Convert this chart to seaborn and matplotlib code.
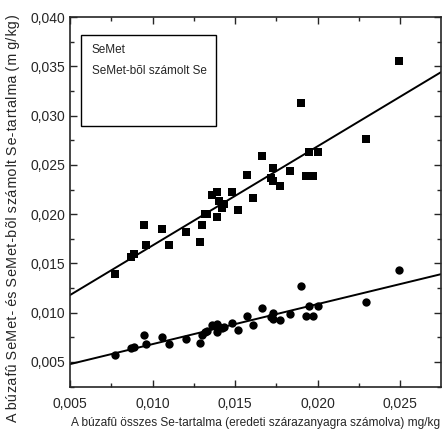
import numpy as np
import pandas as pd
import seaborn as sns
import matplotlib.pyplot as plt
from matplotlib.ticker import FuncFormatter, MultipleLocator
from matplotlib.patches import Rectangle

# összes Se-tartalom (mg/kg)
osszes_se = [0.0077, 0.0087, 0.0089, 0.0095, 0.0096, 0.0106, 0.0110, 0.0120, 0.0129,
             0.0130, 0.0132, 0.0133, 0.0136, 0.0139, 0.0139, 0.0140, 0.0142, 0.0143,
             0.0148, 0.0152, 0.0157, 0.0161, 0.0166, 0.0172, 0.0173, 0.0173, 0.0177,
             0.0183, 0.0193, 0.0195, 0.0197, 0.0200, 0.0190, 0.0229, 0.0249]
# SeMet (négyzetek)
semet = [0.0139, 0.0157, 0.0160, 0.0189, 0.0169, 0.0185, 0.0169, 0.0182, 0.0172,
         0.0189, 0.0200, 0.0200, 0.0219, 0.0222, 0.0197, 0.0213, 0.0206, 0.0210,
         0.0222, 0.0204, 0.0240, 0.0216, 0.0259, 0.0237, 0.0247, 0.0234, 0.0229,
         0.0244, 0.0239, 0.0263, 0.0239, 0.0263, 0.0313, 0.0276, 0.0355]
# SeMet-bõl számolt Se (körök)
semet_se = [0.0057, 0.0064, 0.0065, 0.0077, 0.0068, 0.0075, 0.0068, 0.0073, 0.0069,
            0.0077, 0.0080, 0.0081, 0.0088, 0.0089, 0.0080, 0.0086, 0.0084, 0.0085,
            0.0090, 0.0082, 0.0097, 0.0088, 0.0105, 0.0096, 0.0100, 0.0094, 0.0093,
            0.0099, 0.0097, 0.0107, 0.0097, 0.0107, 0.0127, 0.0111, 0.0143]

df = pd.DataFrame({'x': osszes_se, 'semet': semet, 'semet_se': semet_se})

sns.set_style('ticks')
plt.rcParams['font.family'] = ['Liberation Sans', 'DejaVu Sans']

fig = plt.figure(figsize=(4.43, 4.38), dpi=100)
ax = fig.add_axes([0.158, 0.1164, 0.8375, 0.8446])

sns.scatterplot(x='x', y='semet', data=df, marker='s', s=36, color='black',
                edgecolor='black', linewidth=0, ax=ax)
sns.scatterplot(x='x', y='semet_se', data=df, marker='o', s=36, color='black',
                edgecolor='black', linewidth=0, ax=ax)

ax.set_xlim(0.005, 0.02747)
ax.set_ylim(0.00246, 0.040)

sns.regplot(x='x', y='semet', data=df, scatter=False, ci=None, truncate=False,
            color='black', line_kws={'lw': 1.4}, ax=ax)
sns.regplot(x='x', y='semet_se', data=df, scatter=False, ci=None, truncate=False,
            color='black', line_kws={'lw': 1.4}, ax=ax)

ax.set_xlim(0.005, 0.02747)
ax.set_ylim(0.00246, 0.040)

fmt = FuncFormatter(lambda v, p: f'{v:.3f}'.replace('.', ','))
ax.xaxis.set_major_locator(MultipleLocator(0.005))
ax.xaxis.set_minor_locator(MultipleLocator(0.0025))
ax.yaxis.set_major_locator(MultipleLocator(0.005))
ax.yaxis.set_minor_locator(MultipleLocator(0.0025))
ax.xaxis.set_major_formatter(fmt)
ax.yaxis.set_major_formatter(fmt)
ax.tick_params(which='both', direction='in', top=True, right=True, labelsize=10, width=1)
ax.tick_params(which='major', length=5)
ax.tick_params(which='minor', length=3)
ax.tick_params(axis='x', pad=7)
for sp in ax.spines.values():
    sp.set_linewidth(1.2)

ax.set_xlabel('A búzafû összes Se-tartalma (eredeti szárazanyagra számolva) mg/kg',
              fontsize=8.6)
ax.xaxis.set_label_coords(0.5, -0.08)

# ritkított betûköz a függõleges feliratban
ylab = 'A búzafû SeMet- és SeMet-bõl számolt Se-tartalma (m g/kg)'
hair = '\u200a'
spaced = ''
n = 0
for i, ch in enumerate(ylab):
    spaced += ch
    if i < len(ylab) - 1 and ch != ' ' and ylab[i + 1] != ' ':
        n += 1
        if n % 2 == 0:
            spaced += hair
ax.set_ylabel(spaced, fontsize=10.3)
ax.yaxis.set_label_coords(-0.135, 0.458)

# jelmagyarázat doboz
ax.add_patch(Rectangle((0.0296, 0.7054), 0.364, 0.2456, transform=ax.transAxes,
                       fill=False, edgecolor='black', lw=1))
ax.text(0.058, 0.912, 'SeMet', transform=ax.transAxes, fontsize=8.5, va='center')
ax.text(0.058, 0.853, 'SeMet-bõl számolt Se', transform=ax.transAxes, fontsize=8.5, va='center')

plt.savefig('out.png', dpi=100)
